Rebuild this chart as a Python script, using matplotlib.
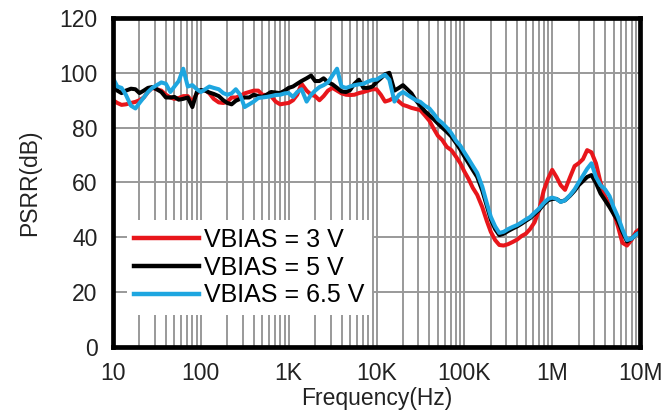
import matplotlib
matplotlib.use('Agg')
import matplotlib.pyplot as plt
from matplotlib.ticker import FixedLocator, LogLocator, NullFormatter

plt.rcParams['font.family'] = ['Liberation Sans', 'DejaVu Sans']

# R20 frequency grid, one decade at a time (10 Hz .. 10 MHz)
mantissa = [1, 1.12, 1.25, 1.4, 1.6, 1.8, 2, 2.24, 2.5, 2.8,
            3.15, 3.55, 4, 4.5, 5, 5.6, 6.3, 7.1, 8, 9]
decades = [10, 100, 1e3, 1e4, 1e5, 1e6]
freq = [m * d for d in decades for m in mantissa] + [1e7]

# PSRR (dB), 20 points per decade
psrr_3v = [
    90, 89, 88.3, 88.5, 89, 89.4, 90, 91, 93, 94.5, 94, 93.5, 92, 91, 90.5, 90.8, 91.5, 91.5, 89.4, 92.5,
    93.5, 93.7, 92.5, 90.5, 89.2, 89, 89.4, 91, 91, 91.5, 92.5, 93, 93.5, 93.5, 92, 91.9, 91.5, 89.5, 88.5, 88.8,
    89, 90, 92, 96, 93.5, 92, 91.5, 90, 91.5, 93.5, 94.5, 93.5, 92.5, 92, 91.9, 92, 92.6, 93, 93.5, 94,
    94, 92, 89.5, 90, 91, 89.5, 88.3, 87.8, 87.2, 86.8, 86.4, 84.5, 82.5, 79.5, 77, 75.5, 73, 71.8, 69.5, 67,
    64, 61.2, 58, 55.5, 51, 46, 42, 39, 37.2, 37, 37.5, 38.3, 39.2, 40.5, 41.3, 43, 45.5, 50, 57, 61.5,
    64.6, 62, 59, 57.3, 62, 66, 67, 68.5, 71.8, 71, 67, 60, 55, 52, 49, 44, 38, 37, 39, 42,
    43]
psrr_5v = [
    95, 93.5, 92.6, 93.5, 94.2, 94, 92.6, 93.5, 94.5, 94.8, 94, 93, 91, 91, 91.2, 90.2, 90.5, 91, 87.5, 93,
    93.7, 93.5, 92.8, 92.3, 91.5, 90, 89, 88.5, 89.8, 90.5, 91, 91, 92, 91.5, 91.2, 92, 93, 92.8, 92.6, 93.5,
    94.5, 95, 96, 97, 98, 99, 97, 97, 98, 96.5, 95.8, 94.5, 93.2, 93, 93.7, 96, 97.5, 94.5, 94.5, 95,
    96.6, 98, 99.5, 100, 93.5, 94.5, 95.5, 94, 92.5, 90, 88, 86, 84.5, 83, 81.5, 80, 78.5, 76.8, 74.5, 72,
    69.5, 67, 64.5, 62, 57, 51.5, 46.5, 43, 40.8, 41.3, 42.3, 43.2, 44, 45, 46, 47, 48.5, 50, 52, 53.5,
    54, 54, 53, 53.5, 55.2, 57, 59, 60.5, 62, 62.7, 59.8, 56, 53.5, 51, 48.5, 46, 42, 38.5, 39.5, 41,
    42]
psrr_6v5 = [
    98, 95, 94.5, 92, 88, 87, 89, 91, 93, 94.5, 95.5, 96.5, 96, 93, 95, 97, 101.5, 95, 95.5, 94,
    93, 94, 95, 94.5, 94, 92.6, 92, 92.5, 94, 92, 87.5, 88.5, 89.5, 90.8, 91, 91.2, 91.5, 91.9, 92, 92.5,
    92.6, 91.2, 93, 94, 89.5, 92, 93.5, 94.8, 95.5, 96.5, 99, 101.5, 95, 94.5, 95, 95.5, 95.8, 96, 96.8, 97.4,
    97.5, 98.5, 99.3, 97.5, 89.5, 92, 93, 92, 91, 90, 89.4, 88, 87, 85, 83, 81.7, 80, 78, 75.3, 73.4,
    71, 68.5, 66, 63.5, 58.5, 52.5, 47.5, 44, 41.6, 42, 43, 43.8, 44.5, 45.5, 46.5, 47.4, 49, 50.5, 52.5, 54,
    54.5, 54, 52.9, 53.5, 55.4, 57.5, 60, 62.5, 65, 67, 62, 59, 57.5, 55, 51, 47.5, 43, 39, 39.5, 41,
    41.9]

series = [
    (psrr_3v, '#e8161b', 'VBIAS = 3 V'),
    (psrr_5v, '#000000', 'VBIAS = 5 V'),
    (psrr_6v5, '#1ea6e0', 'VBIAS = 6.5 V'),
]

x_ticks = [10, 100, 1e3, 1e4, 1e5, 1e6, 1e7]
x_labels = ['10', '100', '1K', '10K', '100K', '1M', '10M']
y_ticks = [0, 20, 40, 60, 80, 100, 120]

fig = plt.figure(figsize=(6.66, 4.16), dpi=100)
ax = fig.add_axes([0.1697, 0.1659, 0.7913, 0.7909])

for vals, col, lab in series:
    ax.plot(freq, vals, color=col, lw=2.9, label=lab, solid_joinstyle='round')

ax.set_xscale('log')
ax.set_xlim(10, 1e7)
ax.set_ylim(0, 120)
ax.xaxis.set_major_locator(FixedLocator(x_ticks))
ax.set_xticklabels(x_labels)
ax.xaxis.set_minor_locator(LogLocator(base=10, subs=range(2, 10)))
ax.xaxis.set_minor_formatter(NullFormatter())
ax.set_yticks(y_ticks)

ax.grid(True, which='both', axis='x', color='#999999', lw=1.4)
ax.grid(True, which='major', axis='y', color='#999999', lw=1.4)
ax.set_axisbelow(True)

for s in ax.spines.values():
    s.set_linewidth(3.4)
    s.set_color('black')

ax.tick_params(which='both', length=0, labelsize=16.5, colors='#222222')
ax.tick_params(axis='y', pad=11)
ax.tick_params(axis='x', pad=11)

ax.set_xlabel('Frequency(Hz)', fontsize=16.5, color='#222222', labelpad=1)
ax.set_ylabel('PSRR(dB)', fontsize=16.5, color='#222222', labelpad=13)

leg = ax.legend(loc='lower left', bbox_to_anchor=(0.012, 0.075), fontsize=18,
                frameon=True, framealpha=1, fancybox=False, edgecolor='none',
                handlelength=2.6, handletextpad=0.2, labelspacing=0.15,
                borderpad=0.3, borderaxespad=0.3)
for line in leg.get_lines():
    line.set_linewidth(3.2)

fig.savefig('out.png', dpi=100)
